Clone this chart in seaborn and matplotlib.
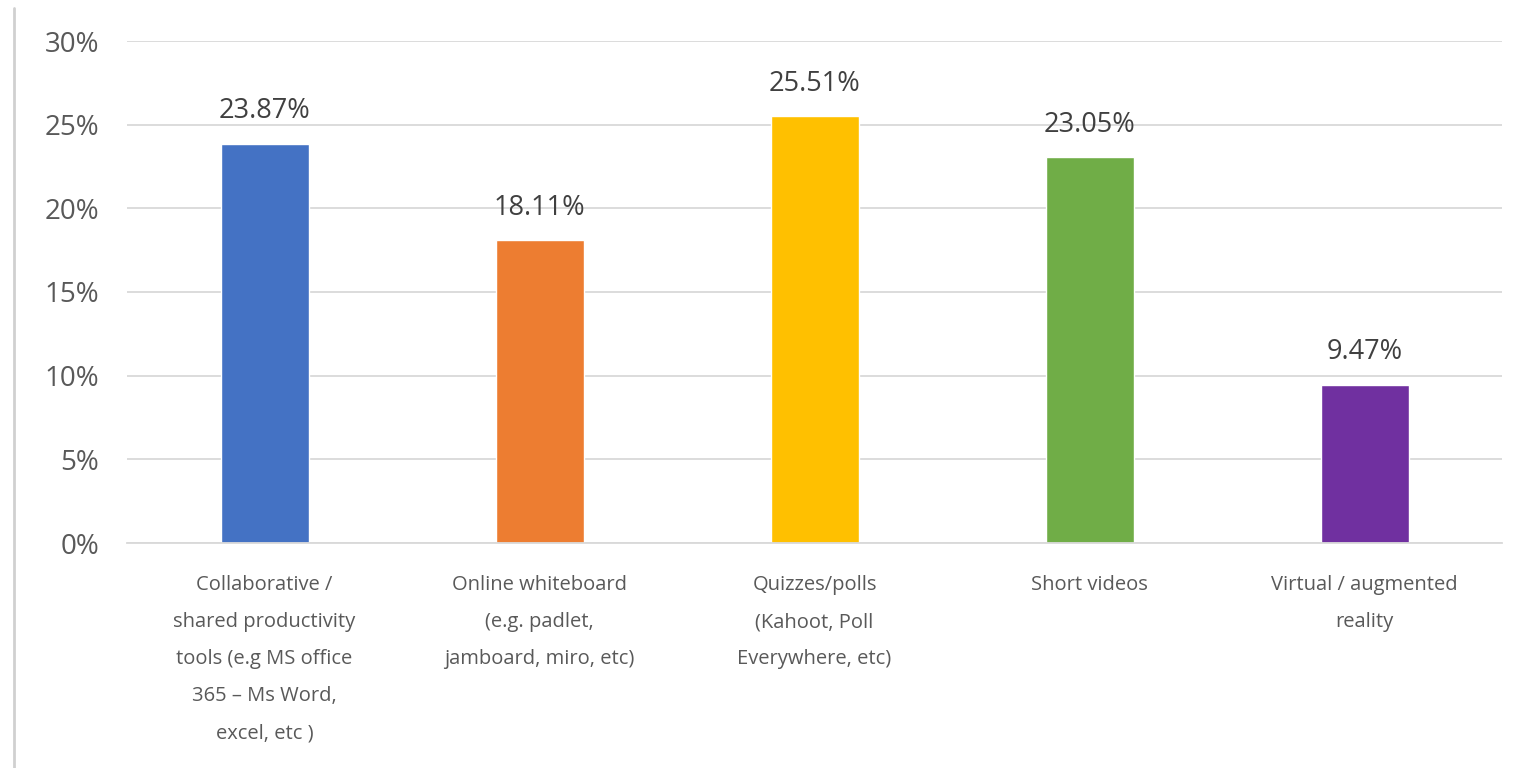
import matplotlib
matplotlib.use("Agg")
import matplotlib.pyplot as plt
import seaborn as sns
import pandas as pd
from matplotlib.lines import Line2D
from matplotlib.ticker import FuncFormatter

categories = [
    "Collaborative /\nshared productivity\ntools (e.g MS office\n365 – Ms Word,\nexcel, etc )",
    "Online whiteboard\n(e.g. padlet,\njamboard, miro, etc)",
    "Quizzes/polls\n(Kahoot, Poll\nEverywhere, etc)",
    "Short videos",
    "Virtual / augmented\nreality",
]
values = [23.87, 18.11, 25.51, 23.05, 9.47]
colors = ["#4472C4", "#ED7D31", "#FFC000", "#70AD47", "#7030A0"]
yticks = [0, 5, 10, 15, 20, 25, 30]

sns.set_style("white")
plt.rcParams["font.family"] = ["Open Sans", "DejaVu Sans"]

df = pd.DataFrame({"cat": categories, "val": values})
fig = plt.figure(figsize=(15.21, 7.68), dpi=100)
ax = fig.add_axes([127 / 1521, 1 - 543 / 768, (1502 - 127) / 1521, (543 - 41) / 768])

sns.barplot(data=df, x="cat", y="val", hue="cat", palette=colors, legend=False,
            width=0.32, ax=ax, saturation=1)

ax.set_ylim(0, 30)
ax.set_yticks(yticks)
ax.yaxis.set_major_formatter(FuncFormatter(lambda v, p: f"{int(v)}%"))
ax.grid(axis="y", color="#D9D9D9", linewidth=1.3)
ax.set_axisbelow(True)
for s in ["top", "right", "left"]:
    ax.spines[s].set_visible(False)
ax.spines["bottom"].set_color("#D9D9D9")
ax.spines["bottom"].set_linewidth(1.3)
ax.set_xlabel("")
ax.set_ylabel("")
ax.tick_params(axis="both", length=0, colors="#595959")
ax.tick_params(axis="y", pad=20, labelsize=20)
ax.tick_params(axis="x", pad=23, labelsize=14.5)
for lbl in ax.get_xticklabels():
    lbl.set_linespacing(2.14)
ax.set_xlim(-0.5, 4.5)

for i, v in enumerate(values):
    ax.text(i, v + 1.1, f"{v:.2f}%", ha="center", va="bottom", fontsize=19.5, color="#404040")

fig.add_artist(Line2D([14 / 1521, 14 / 1521], [0, 1 - 8 / 768], transform=fig.transFigure,
                      color="#D0D0D0", linewidth=2))

fig.savefig("out.png", dpi=100, facecolor="white")
